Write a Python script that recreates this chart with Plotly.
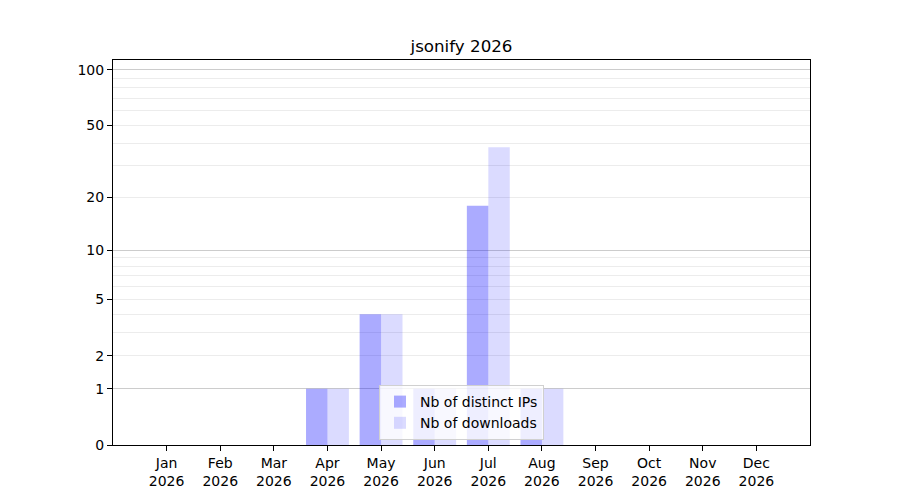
import numpy as np
import plotly.graph_objects as go

months = ["Jan", "Feb", "Mar", "Apr", "May", "Jun", "Jul", "Aug", "Sep", "Oct", "Nov", "Dec"]
year = "2026"
distinct_ips = [0, 0, 0, 1, 4, 1, 18, 1, 0, 0, 0, 0]
downloads = [0, 0, 0, 1, 4, 1, 38, 1, 0, 0, 0, 0]
y_tick_values = [0, 1, 2, 5, 10, 20, 50, 100]
major_grid_values = [1, 10, 100]
minor_grid_values = [2, 3, 4, 5, 6, 7, 8, 9, 20, 30, 40, 50, 60, 70, 80, 90]
y_max = 113


def tr(v):
    return np.log10(1 + np.asarray(v, dtype=float))


x = list(range(len(months)))
ticktext = [f"{m}<br>{year}" for m in months]
yr = [0, float(tr(y_max))]

fig = go.Figure()
fig.add_trace(go.Bar(x=x, y=tr(distinct_ips), name="Nb of distinct IPs",
                     marker=dict(color="rgba(0,0,255,0.33)", line=dict(width=0))))
fig.add_trace(go.Bar(x=x, y=tr(downloads), name="Nb of downloads",
                     marker=dict(color="rgba(0,0,255,0.14)", line=dict(width=0))))

font = dict(family="DejaVu Sans", size=14, color="black")
fig.update_layout(
    width=892, height=492,
    margin=dict(l=105, r=90, t=52, b=55),
    paper_bgcolor="white", plot_bgcolor="white",
    font=font,
    barmode="group", bargap=0.2, bargroupgap=0,
    title=dict(text="jsonify 2026", x=0.5, xref="paper", xanchor="center",
               y=1 - 38 / 492, yref="container", yanchor="middle",
               font=dict(family="DejaVu Sans", size=16.7, color="black")),
    showlegend=True,
    legend=dict(x=0.5, xanchor="center", y=0.013, yanchor="bottom",
                bgcolor="rgba(255,255,255,0.8)", bordercolor="#d0d0d0", borderwidth=1,
                font=dict(family="DejaVu Sans", size=14, color="black"),
                itemwidth=30),
    xaxis=dict(range=[-1, 12], tickmode="array", tickvals=x, ticktext=ticktext,
               ticks="outside", ticklen=5, tickcolor="black", showgrid=False,
               showline=True, linecolor="black", linewidth=1, mirror=True,
               zeroline=False, fixedrange=True),
    yaxis=dict(range=yr, tickmode="array", tickvals=list(tr(y_tick_values)),
               ticktext=[str(v) for v in y_tick_values],
               ticks="outside", ticklen=5, tickcolor="black", showgrid=False,
               showline=True, linecolor="black", linewidth=1, mirror=True,
               zeroline=False,
               minor=dict(tickmode="array", tickvals=list(tr(minor_grid_values)),
                          showgrid=True, gridcolor="#ececec", gridwidth=1, ticks=""),
               fixedrange=True),
    yaxis2=dict(range=yr, overlaying="y", side="left", tickmode="array",
                tickvals=list(tr(major_grid_values)), showticklabels=False,
                showgrid=True, gridcolor="#cccccc", gridwidth=1, ticks="",
                showline=False, zeroline=False, fixedrange=True),
)
# invisible trace to activate the overlay axis
fig.add_trace(go.Scatter(x=[0], y=[0], yaxis="y2", mode="markers",
                         marker=dict(opacity=0), showlegend=False, hoverinfo="skip"))

fig.write_html("out.html")
